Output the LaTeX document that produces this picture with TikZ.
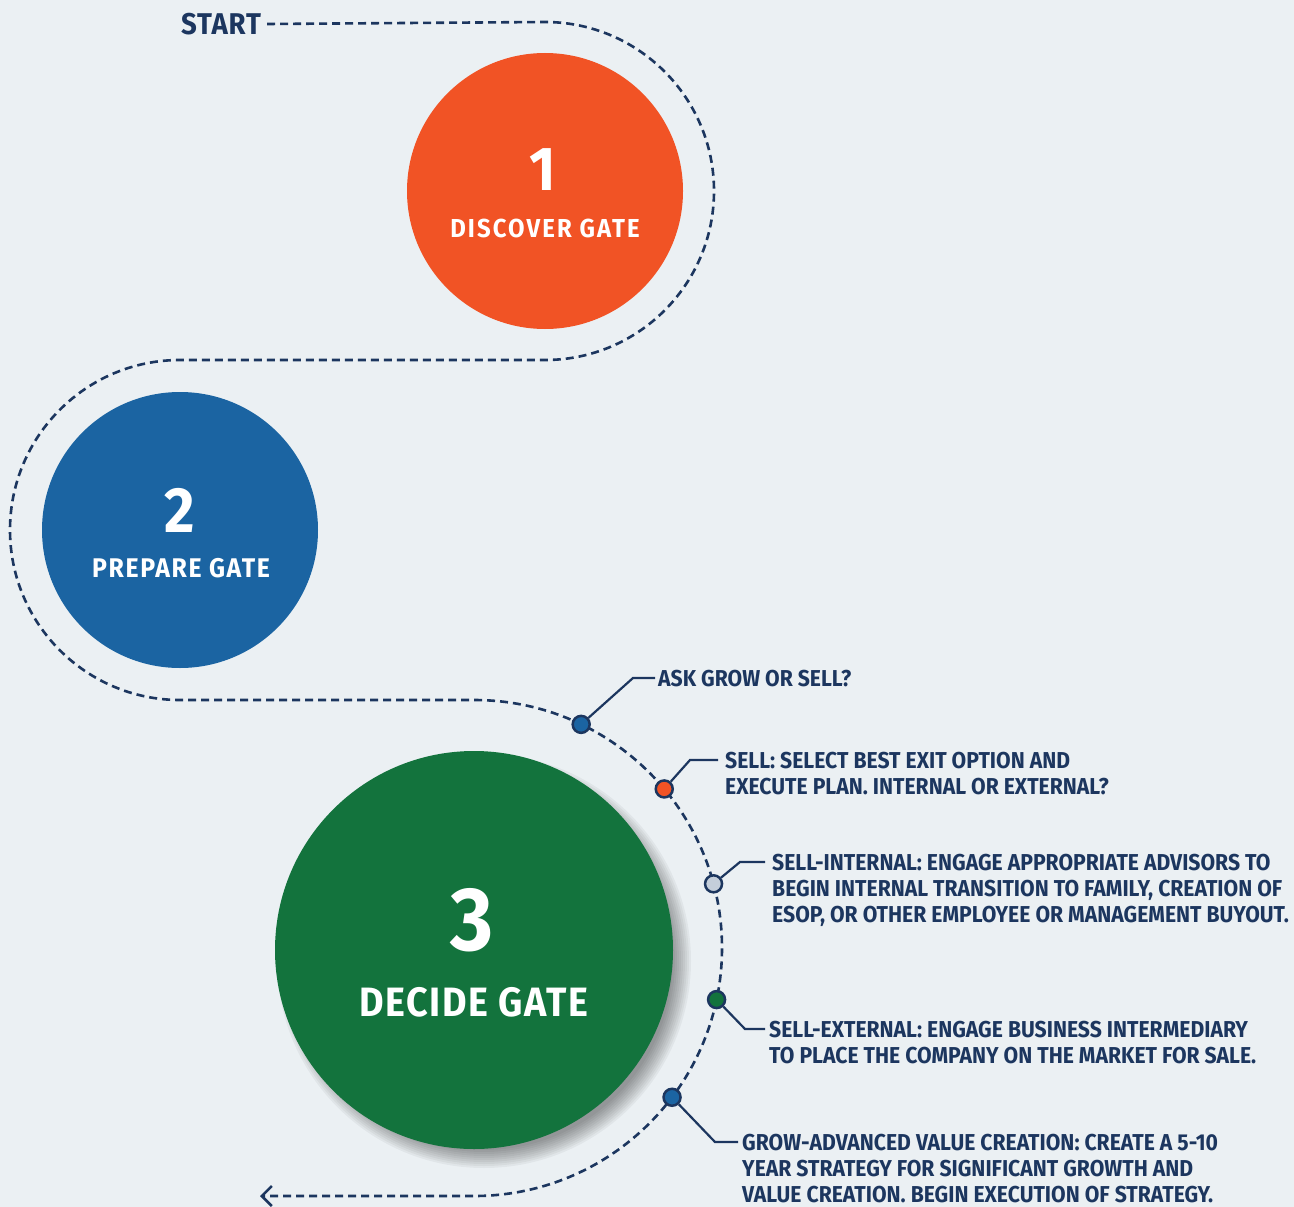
\documentclass[tikz,border=0pt]{standalone}
\usepackage{fontspec}
\setmainfont{Fira Sans}[FakeStretch=0.92]
\usetikzlibrary{calc,positioning,arrows.meta}
\definecolor{bgcol}{HTML}{EBF0F3}
\definecolor{navy}{HTML}{1C365F}
\definecolor{gateorange}{HTML}{F15325}
\definecolor{gateblue}{HTML}{1B64A2}
\definecolor{gategreen}{HTML}{13733D}
\definecolor{dotgrey}{HTML}{C4CEDA}

\tikzset{
    gate/.style={circle, inner sep=0pt, minimum size=276pt},
    gatenum/.style={text=white, inner sep=0pt, font=\bfseries\fontsize{62}{62}\selectfont},
    gatetxt/.style={text=white, inner sep=0pt},
    road/.style={navy, line width=2.6pt, dash pattern=on 8pt off 5pt},
    dot/.style={circle, draw=navy, line width=2.5pt, inner sep=0pt, minimum size=17pt},
    leader/.style={navy, line width=2.2pt},
    note/.style={text=navy, inner sep=0pt, align=left, anchor=north west, font=\bfseries\fontsize{23}{26}\selectfont},
}

\begin{document}
\begin{tikzpicture}[x=1pt,y=-1pt]
    % page
    \fill[bgcol] (0,0) rectangle (1294,1207);
    \useasboundingbox (0,0) rectangle (1294,1207);

    % soft shadow under the big gate
    \foreach \r in {189,191,...,207} {
        \fill[black, opacity=0.045] (484,961) circle (\r);
    };

    % the three gates
    \node[gate, fill=gateorange] (g1) at (545,191) {};
    \node[gate, fill=gateblue] (g2) at (180,530) {};
    \node[gate, fill=gategreen, minimum size=398pt] (g3) at (474,950) {};

    \node[gatenum] (num1) at (543,170) {1};
    \node[gatetxt, font=\bfseries\fontsize{26}{26}\selectfont\addfontfeature{LetterSpace=8}] (lab1) at (545,228) {DISCOVER GATE};
    \node[gatenum, font=\bfseries\fontsize{64}{64}\selectfont] (num2) at (180,510) {2};
    \node[gatetxt, font=\bfseries\fontsize{27}{27}\selectfont\addfontfeature{LetterSpace=6}] (lab2) at (181,568) {PREPARE GATE};
    \node[gatenum, font=\bfseries\fontsize{90}{90}\selectfont] (num3) at (472,920) {3};
    \node[gatetxt, font=\bfseries\fontsize{41}{41}\selectfont\addfontfeature{LetterSpace=4}] (lab3) at (474,1002) {DECIDE GATE};

    % the road
    \node[text=navy, inner sep=6pt, font=\bfseries\fontsize{30}{30}\selectfont\addfontfeature{LetterSpace=3}] (start) at (221,24) {START};
    \coordinate (c3) at (474,948);
    \coordinate (finish) at (260,1196);
    \draw[road, -{Straight Barb[length=10pt, width=20pt, line width=2.5pt]}]
        (start.east) -- (545,22) arc[start angle=-90, end angle=90, radius=169]
        -- (180,360) arc[start angle=-90, end angle=-270, radius=170]
        -- (474,700) arc[start angle=-90, end angle=90, radius=248]
        -- (finish);

    % stops on the last bend
    \foreach \ang/\col/\nm in {-64.4/gateblue/d1, -39.9/gateorange/d2, -15/dotgrey/d3, 12/gategreen/d4, 37/gateblue/d5} {
        \node[dot, fill=\col] (\nm) at ($(c3)+(\ang:248)$) {};
    };

    % notes
    \coordinate (e1) at (655,678);
    \coordinate (e2) at (718,760);
    \coordinate (e3) at (765,862);
    \coordinate (e4) at (765,1029);
    \coordinate (e5) at (738,1142);
    \draw[leader] (d1) -- (633,678) -- (e1);
    \draw[leader] (d2) -- (690,760) -- (e2);
    \draw[leader] (d3) -- (740,862) -- (e3);
    \draw[leader] (d4) -- (745,1029) -- (e4);
    \draw[leader] (d5) -- (715,1142) -- (e5);

    \node[note] (n1) at (658,670) {ASK GROW OR SELL?};
    \node[note] (n2) at (725,752) {SELL: SELECT BEST EXIT OPTION AND\\EXECUTE PLAN. INTERNAL OR EXTERNAL?};
    \node[note] (n3) at (772,854) {SELL-INTERNAL: ENGAGE APPROPRIATE ADVISORS TO\\BEGIN INTERNAL TRANSITION TO FAMILY, CREATION OF\\ESOP, OR OTHER EMPLOYEE OR MANAGEMENT BUYOUT.};
    \node[note] (n4) at (769,1021) {SELL-EXTERNAL: ENGAGE BUSINESS INTERMEDIARY\\TO PLACE THE COMPANY ON THE MARKET FOR SALE.};
    \node[note] (n5) at (742,1134) {GROW-ADVANCED VALUE CREATION: CREATE A 5-10\\YEAR STRATEGY FOR SIGNIFICANT GROWTH AND\\VALUE CREATION. BEGIN EXECUTION OF STRATEGY.};
\end{tikzpicture}
\end{document}
